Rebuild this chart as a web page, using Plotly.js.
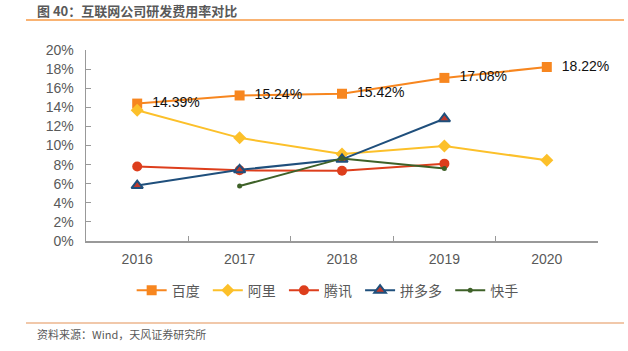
<!DOCTYPE html>
<html>
<head>
<meta charset="utf-8">
<script src="https://cdn.plot.ly/plotly-3.0.1.min.js"></script>
<style>html,body{margin:0;padding:0;background:#fff;}#chart{width:628px;height:351px;}</style>
</head>
<body>
<div id="chart"></div>
<script>
const years = ['2016', '2017', '2018', '2019', '2020'];
const baidu = [14.39, 15.24, 15.42, 17.08, 18.22];
const baiduLabels = ['14.39%', '15.24%', '15.42%', '17.08%', '18.22%'];
const ali = [13.7, 10.8, 9.1, 9.95, 8.45];
const tencent = [7.8, 7.4, 7.35, 8.1];
const pdd = [5.8, 7.45, 8.55, 12.8];
const kuaishouYears = ['2017', '2018', '2019'];
const kuaishou = [5.75, 8.65, 7.6];
const seriesNames = ['百度', '阿里', '腾讯', '拼多多', '快手'];

const font = 'Liberation Sans, Arial, "Noto Sans CJK SC", sans-serif';
const cjk = '"Noto Sans CJK SC", Liberation Sans, sans-serif';
const pad = '\u00a0\u00a0';
const lpad = '\u00a0';

const traces = [
  {x: years, y: baidu, name: seriesNames[0] + lpad, mode: 'lines+markers+text',
   text: baiduLabels, texttemplate: pad + '%{text}', textposition: 'middle right', cliponaxis: false,
   textfont: {size: 14, color: '#111', family: font},
   line: {color: '#F7861F', width: 2}, marker: {symbol: 'square', size: 10, color: '#F7861F'}},
  {x: years, y: ali, name: seriesNames[1] + lpad, mode: 'lines+markers',
   line: {color: '#FCC02A', width: 2}, marker: {symbol: 'diamond', size: 10, color: '#FCC02A'}},
  {x: years.slice(0, 4), y: tencent, name: seriesNames[2] + lpad, mode: 'lines+markers',
   line: {color: '#DD3E1C', width: 2}, marker: {symbol: 'circle', size: 10, color: '#DD3E1C'}},
  {x: years.slice(0, 4), y: pdd, name: seriesNames[3] + lpad, mode: 'lines+markers',
   line: {color: '#1F4F7C', width: 2}, marker: {symbol: 'triangle-up', size: 10, color: '#C0392B', line: {color: '#1F4F7C', width: 2}}},
  {x: kuaishouYears, y: kuaishou, name: seriesNames[4], mode: 'lines+markers',
   line: {color: '#3E6128', width: 2}, marker: {symbol: 'circle', size: 5, color: '#3E6128'}}
];

const layout = {
  width: 628, height: 351,
  margin: {l: 86, r: 30, t: 50, b: 110},
  paper_bgcolor: '#fff', plot_bgcolor: '#fff',
  showlegend: true,
  legend: {orientation: 'h', x: 0.472, xanchor: 'center', y: -0.26, yanchor: 'middle',
           font: {family: cjk, size: 14, color: '#595959'}, itemwidth: 30, tracegroupgap: 0},
  xaxis: {type: 'category', range: [-0.5, 4.5], tickson: 'boundaries', ticks: 'inside', ticklen: 5,
          tickcolor: '#999', showline: true, linecolor: '#999', linewidth: 1.5, showgrid: false, zeroline: false,
          ticklabelstandoff: 5,
          tickfont: {family: font, size: 14, color: '#595959'}},
  yaxis: {range: [0, 20], dtick: 2, ticksuffix: '%', ticks: 'inside', ticklen: 5, tickcolor: '#999',
          showline: true, linecolor: '#999', linewidth: 1.5, showgrid: false, zeroline: false,
          ticklabelstandoff: 8,
          tickfont: {family: font, size: 14, color: '#595959'}},
  shapes: [
    {type: 'line', xref: 'paper', yref: 'paper', x0: -60/512, x1: (624-86)/512, y0: (351-20-110)/191, y1: (351-20-110)/191,
     line: {color: '#F79A45', width: 1.5}},
    {type: 'line', xref: 'paper', yref: 'paper', x0: -60/512, x1: (624-86)/512, y0: (351-323-110)/191, y1: (351-323-110)/191,
     line: {color: '#E39156', width: 1.2}}
  ],
  annotations: [
    {xref: 'paper', yref: 'paper', x: -51/512, y: (351-11-110)/191, xanchor: 'left', yanchor: 'middle', showarrow: false,
     text: '<b>图 40：互联网公司研发费用率对比</b>', font: {family: cjk, size: 13, color: '#595959'}},
    {xref: 'paper', yref: 'paper', x: -51/512, y: (351-334-110)/191, xanchor: 'left', yanchor: 'middle', showarrow: false,
     text: '资料来源：Wind，天风证券研究所', font: {family: cjk, size: 11, color: '#595959'}}
  ]
};

Plotly.newPlot('chart', traces, layout, {displayModeBar: false, staticPlot: true});
</script>
</body>
</html>
